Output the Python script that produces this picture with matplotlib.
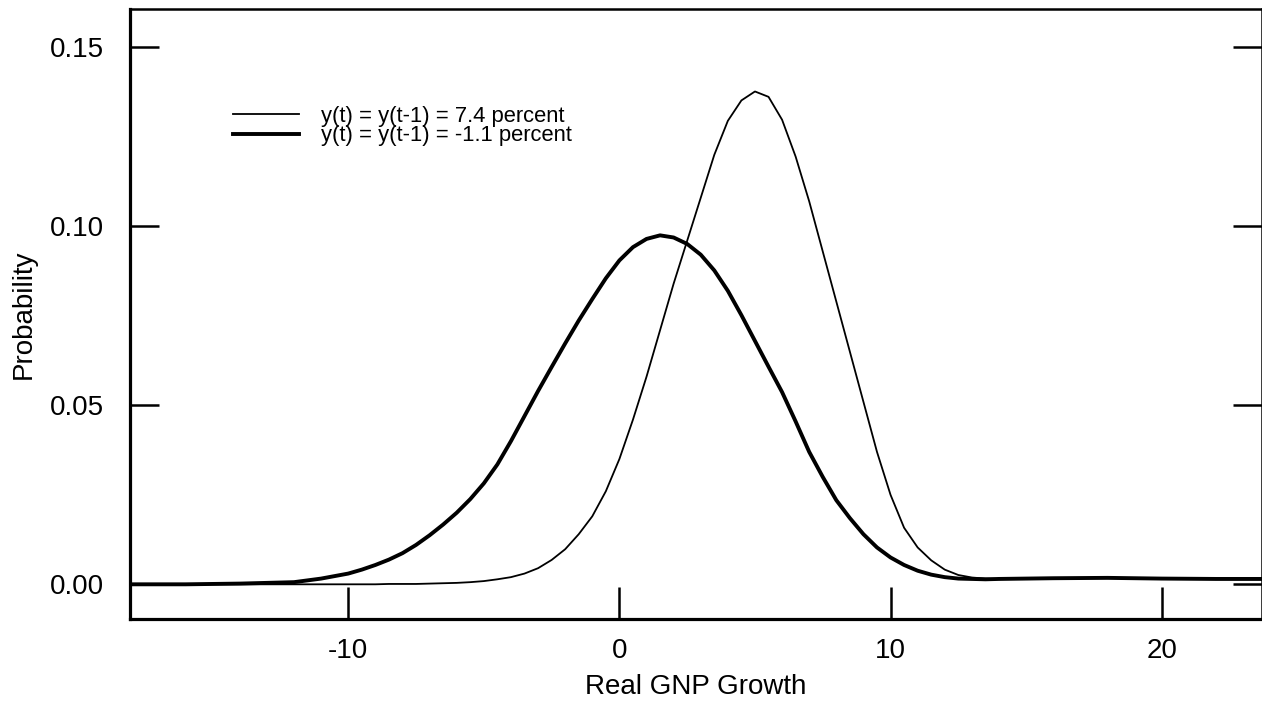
import numpy as np
import matplotlib.pyplot as plt

growth = [-18, -16, -14, -12, -11, -10, -9.5, -9, -8.5, -8, -7.5, -7, -6.5, -6, -5.5, -5, -4.5, -4,
          -3.5, -3, -2.5, -2, -1.5, -1, -0.5, 0, 0.5, 1, 1.5, 2, 2.5, 3, 3.5, 4, 4.5, 5, 5.5,
          6, 6.5, 7, 7.5, 8, 8.5, 9, 9.5, 10, 10.5, 11, 11.5, 12, 12.5, 13, 13.5, 14, 16, 18,
          20, 22, 24]

# y(t) = y(t-1) = 7.4 percent  (thin line)
dens_high = [0.0, 0.0, 0.0, 0.0, 0.0, 0.0, 0.0, 0.0, 0.0001, 0.0001, 0.0001, 0.0002, 0.0003, 0.0004, 0.0006, 0.0009, 0.0014, 0.002,
             0.003, 0.0045, 0.0068, 0.0098, 0.014, 0.019, 0.026, 0.035, 0.046, 0.058, 0.071, 0.084, 0.096, 0.108, 0.120, 0.1295, 0.1352, 0.1377, 0.1362,
             0.1298, 0.1195, 0.107, 0.093, 0.079, 0.065, 0.051, 0.037, 0.025, 0.0158, 0.0103, 0.0067, 0.0041, 0.0026, 0.0019, 0.0016, 0.0015, 0.0017, 0.0018,
             0.0016, 0.0015, 0.0015]

# y(t) = y(t-1) = -1.1 percent  (thick line)
dens_low = [0.0, 0.0, 0.0002, 0.0006, 0.0016, 0.003, 0.0041, 0.0054, 0.0069, 0.0087, 0.011, 0.0137, 0.0167, 0.020, 0.0238, 0.0282, 0.0335, 0.040,
            0.047, 0.054, 0.0607, 0.0673, 0.0737, 0.0797, 0.0855, 0.0905, 0.0942, 0.0965, 0.0975, 0.0969, 0.0951, 0.0921, 0.0877, 0.082, 0.0752, 0.068, 0.0608,
            0.0537, 0.0455, 0.037, 0.030, 0.0235, 0.0185, 0.014, 0.0103, 0.0075, 0.0054, 0.0038, 0.0027, 0.002, 0.0016, 0.0015, 0.0014, 0.0015, 0.0017, 0.0018,
            0.0016, 0.0015, 0.0015]

labels = ["y(t) = y(t-1) = 7.4 percent", "y(t) = y(t-1) = -1.1 percent"]

plt.rcParams['font.family'] = ['Liberation Sans', 'DejaVu Sans']
plt.rcParams['axes.unicode_minus'] = False

fig = plt.figure(figsize=(12.62, 7.04), dpi=100)
ax = fig.add_axes([0.103, 0.1207, 0.897, 0.8663])

ax.plot(growth, dens_high, color='black', linewidth=1.3, label=labels[0])
ax.plot(growth, dens_low, color='black', linewidth=2.8, label=labels[1])

ax.set_xlim(-18.05, 23.7)
ax.set_ylim(-0.0097, 0.1607)

ax.set_xticks([-10, 0, 10, 20])
ax.set_yticks([0.0, 0.05, 0.10, 0.15])
ax.set_yticklabels(["0.00", "0.05", "0.10", "0.15"])

ax.tick_params(axis='x', direction='in', length=23, width=1.8, pad=14, labelsize=20)
ax.tick_params(axis='y', direction='in', length=21, width=1.8, pad=19, labelsize=20,
               right=True)

for side in ['left', 'bottom']:
    ax.spines[side].set_linewidth(2.3)
for side in ['top', 'right']:
    ax.spines[side].set_linewidth(1.8)

ax.set_xlabel("Real GNP Growth", fontsize=20, labelpad=7)
ax.set_ylabel("Probability", fontsize=20, labelpad=9)

ax.legend(loc='upper left', bbox_to_anchor=(0.091, 0.842), frameon=False,
          fontsize=15.8, handlelength=3.0, handletextpad=1.0, labelspacing=-0.05,
          borderpad=0, borderaxespad=0)

fig.savefig("out.png", dpi=100)
